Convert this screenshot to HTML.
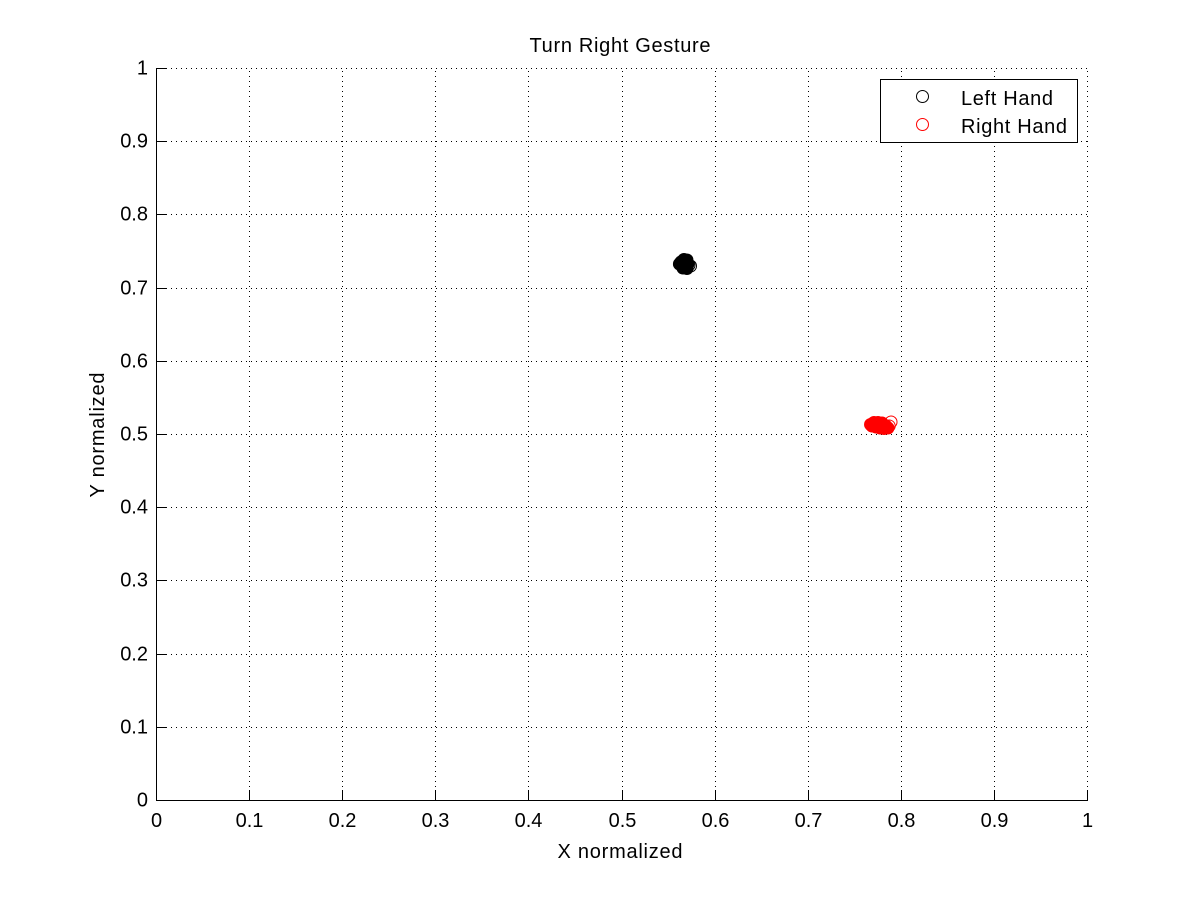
<!DOCTYPE html>
<html>
<head>
<meta charset="utf-8">
<title>Turn Right Gesture</title>
<style>
html,body{margin:0;padding:0;background:#fff;}
svg{display:block;}
text{font-family:"Liberation Sans",sans-serif;fill:#000;}
</style>
</head>
<body>
<svg id="chart" xmlns="http://www.w3.org/2000/svg" width="1201" height="900" viewBox="0 0 1201 900"></svg>
<script>
const xTickValues = [0, 0.1, 0.2, 0.3, 0.4, 0.5, 0.6, 0.7, 0.8, 0.9, 1];
const yTickValues = [0, 0.1, 0.2, 0.3, 0.4, 0.5, 0.6, 0.7, 0.8, 0.9, 1];
const xTickLabels = ['0', '0.1', '0.2', '0.3', '0.4', '0.5', '0.6', '0.7', '0.8', '0.9', '1'];
const yTickLabels = ['0', '0.1', '0.2', '0.3', '0.4', '0.5', '0.6', '0.7', '0.8', '0.9', '1'];
// Points in the dense core of each cluster, where overlapping rings read as solid
const leftHandCoreX = [0.5622, 0.5671, 0.5703, 0.5660, 0.5703, 0.5681, 0.5638, 0.5649, 0.5714];
const leftHandCoreY = [0.7322, 0.7384, 0.7377, 0.7267, 0.7261, 0.7322, 0.7349, 0.7295, 0.7322];
const leftHandOuterX = [0.5741, 0.5725];
const leftHandOuterY = [0.7295, 0.7309];
const rightHandCoreX = [0.7675, 0.7712, 0.7755, 0.7798, 0.7734, 0.7777, 0.7820, 0.7862, 0.7691, 0.7841, 0.7755, 0.7798];
const rightHandCoreY = [0.5130, 0.5157, 0.5157, 0.5150, 0.5096, 0.5082, 0.5075, 0.5082, 0.5109, 0.5109, 0.5123, 0.5109];
const rightHandOuterX = [0.7895, 0.7875];
const rightHandOuterY = [0.5164, 0.5110];

const NS = 'http://www.w3.org/2000/svg';
const svg = document.getElementById('chart');
const plotLeft = 156, plotRight = 1087, plotTop = 68, plotBottom = 800;
const xScale = v => plotLeft + v * (plotRight - plotLeft);
const yScale = v => plotBottom - v * (plotBottom - plotTop);

function make(tag, attrs, text) {
  const el = document.createElementNS(NS, tag);
  for (const k in attrs) el.setAttribute(k, attrs[k]);
  if (text !== undefined) el.textContent = text;
  svg.appendChild(el);
  return el;
}

xTickValues.forEach((v, i) => {
  const x = Math.round(xScale(v)) + 0.5;
  if (v > 0) {
    const grid = make('line', {x1: x, x2: x, y1: plotBottom - 3, y2: plotTop, stroke: '#000', 'stroke-width': 1, 'stroke-dasharray': '1 4', 'shape-rendering': 'crispEdges'});
    
    
  }
  const tick = make('line', {x1: x, x2: x, y1: plotBottom, y2: plotBottom - 10, stroke: '#000', 'stroke-width': 1, 'shape-rendering': 'crispEdges'});
  
  
  const label = make('text', {x: x, y: 827, 'text-anchor': 'middle', 'font-size': 20}, xTickLabels[i]);
  
  
});

yTickValues.forEach((v, i) => {
  const y = Math.round(yScale(v)) + 0.5;
  if (v > 0) {
    const grid = make('line', {x1: plotLeft, x2: plotRight + 0.5, y1: y, y2: y, stroke: '#000', 'stroke-width': 1, 'stroke-dasharray': '1 4', 'shape-rendering': 'crispEdges'});
    
    
  }
  const tick = make('line', {x1: plotLeft, x2: plotLeft + 10, y1: y, y2: y, stroke: '#000', 'stroke-width': 1, 'shape-rendering': 'crispEdges'});
  
  
  const label = make('text', {x: 148, y: y + 6, 'text-anchor': 'end', 'font-size': 20}, yTickLabels[i]);
  
  
});

const xAxis = make('line', {x1: plotLeft, x2: plotRight + 1, y1: plotBottom + 0.5, y2: plotBottom + 0.5, stroke: '#000', 'stroke-width': 1, 'shape-rendering': 'crispEdges'});


const yAxis = make('line', {x1: plotLeft + 0.5, x2: plotLeft + 0.5, y1: plotTop, y2: plotBottom + 1, stroke: '#000', 'stroke-width': 1, 'shape-rendering': 'crispEdges'});



leftHandOuterX.forEach((v, i) => {
  const c = make('circle', {cx: xScale(v), cy: yScale(leftHandOuterY[i]), r: 6, fill: 'none', stroke: '#000', 'stroke-width': 1});
  
  
});
leftHandCoreX.forEach((v, i) => {
  const c = make('circle', {cx: xScale(v), cy: yScale(leftHandCoreY[i]), r: 6.5, fill: '#000'});
  
  
});
rightHandOuterX.forEach((v, i) => {
  const c = make('circle', {cx: xScale(v), cy: yScale(rightHandOuterY[i]), r: 6, fill: 'none', stroke: '#f00', 'stroke-width': 1});
  
  
});
rightHandCoreX.forEach((v, i) => {
  const c = make('circle', {cx: xScale(v), cy: yScale(rightHandCoreY[i]), r: 6.5, fill: '#f00'});
  
  
});

const title = make('text', {x: 620, y: 52, 'text-anchor': 'middle', 'font-size': 20, textLength: 181, lengthAdjust: 'spacing'}, 'Turn Right Gesture');


const xTitle = make('text', {x: 620, y: 858, 'text-anchor': 'middle', 'font-size': 20, textLength: 125, lengthAdjust: 'spacing'}, 'X normalized');


const yTitle = make('text', {x: 0, y: 0, 'text-anchor': 'middle', 'font-size': 20, textLength: 125, lengthAdjust: 'spacing', transform: 'translate(104 435) rotate(-90)'}, 'Y normalized');



const legendBox = make('rect', {x: 880.5, y: 79.5, width: 197, height: 63, fill: '#fff', stroke: '#000', 'stroke-width': 1, 'shape-rendering': 'crispEdges'});


const legendMarkerL = make('circle', {cx: 922.5, cy: 96.5, r: 6, fill: 'none', stroke: '#000', 'stroke-width': 1});


const legendTextL = make('text', {x: 961, y: 105, 'font-size': 20, textLength: 92, lengthAdjust: 'spacing'}, 'Left Hand');


const legendMarkerR = make('circle', {cx: 922.5, cy: 124.5, r: 6, fill: 'none', stroke: '#f00', 'stroke-width': 1});


const legendTextR = make('text', {x: 961, y: 133, 'font-size': 20, textLength: 106, lengthAdjust: 'spacing'}, 'Right Hand');


</script>
</body>
</html>
